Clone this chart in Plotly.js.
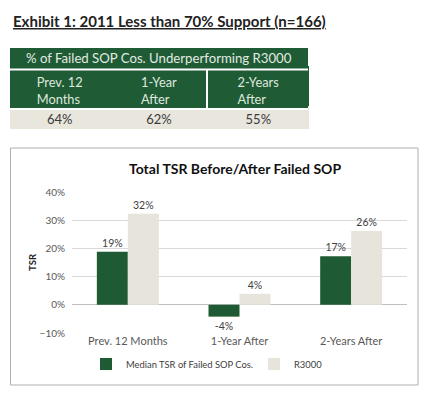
<!DOCTYPE html>
<html><head><meta charset="utf-8">
<script src="https://cdn.plot.ly/plotly-3.0.1.min.js"></script>
<style>html,body{margin:0;padding:0;background:#fff;overflow:hidden;width:431px;height:396px}#c{width:431px;height:396px;overflow:hidden}</style>
</head><body><div id="c"></div>
<script>
const categories = ["Prev. 12 Months", "1-Year After", "2-Years After"];
const failedTSR = [0.188, -0.042, 0.172];
const r3000TSR = [0.323, 0.039, 0.262];
const seriesNames = ["Median TSR of Failed SOP Cos.", "R3000"];
const tableColumns = ["Prev. 12<br>Months", "1-Year<br>After", "2-Years<br>After"];
const underperformShare = ["64%", "62%", "55%"];

const W = 431, H = 396;
const px = x => x / W;
const py = y => 1 - y / H;
const GREEN = "#1f5b34", BEIGE = "#e8e6dd", FONT = "Lato, 'Noto Sans', sans-serif";

const traces = [
  {type: "bar", x: categories, y: failedTSR, name: seriesNames[0], legend: "legend",
   marker: {color: "#1e5a33"}, text: failedTSR.map(v => Math.round(v*100) + "%"),
   textposition: "outside", cliponaxis: false, textfont: {size: 10.5, color: "#404040", family: FONT}},
  {type: "bar", x: categories, y: r3000TSR, name: seriesNames[1], legend: "legend2",
   marker: {color: "#e6e4db"}, text: r3000TSR.map(v => Math.round(v*100) + "%"),
   textposition: "outside", cliponaxis: false, textfont: {size: 10.5, color: "#404040", family: FONT}},
  {type: "table", domain: {x: [px(10), px(308)], y: [py(125), py(66)]},
   columnwidth: [1, 1, 1],
   header: {values: tableColumns, fill: {color: GREEN}, line: {color: GREEN, width: 1},
     align: "center", height: 42, font: {family: FONT, size: 12.8, color: "#dfe8df"}},
   showlegend: false},
  {type: "table", domain: {x: [px(10), px(308)], y: [py(140), py(106)]},
   columnwidth: [1, 1, 1],
   header: {values: underperformShare, fill: {color: BEIGE}, line: {color: BEIGE, width: 1},
     align: "center", height: 22, font: {family: FONT, size: 13, color: "#3a3a3a"}},
   showlegend: false}
];

const legendBase = {orientation: "h", xanchor: "left", y: py(364), yanchor: "middle",
  bgcolor: "rgba(0,0,0,0)", font: {size: 9.4, color: "#404040", family: FONT}, itemwidth: 30};

const layout = {
  width: W, height: H, margin: {l: 0, r: 0, t: 0, b: 0},
  paper_bgcolor: "#fff", plot_bgcolor: "#fff",
  font: {family: FONT, color: "#595959"},
  barmode: "group", bargap: 0.445, bargroupgap: 0,
  showlegend: true,
  legend: Object.assign({}, legendBase, {x: px(86)}),
  legend2: Object.assign({}, legendBase, {x: px(254)}),
  xaxis: {domain: [px(72), px(407)], tickfont: {size: 11, color: "#595959"}, showline: false,
    ticks: "", anchor: "y", fixedrange: true},
  yaxis: {domain: [py(333), py(192)], range: [-0.1, 0.4], dtick: 0.1, tickformat: ".0%",
    tickfont: {size: 10, color: "#595959"}, gridcolor: "#d9d9d9", gridwidth: 1,
    zeroline: true, zerolinecolor: "#bfbfbf", zerolinewidth: 1, showline: false, ticks: "",
    ticklabelstandoff: 6, fixedrange: true},
  shapes: [
    {type: "rect", xref: "paper", yref: "paper", x0: px(10), x1: px(308), y0: py(69), y1: py(48),
     fillcolor: GREEN, line: {width: 0}, layer: "above"},
    {type: "rect", xref: "paper", yref: "paper", x0: px(10), x1: px(308), y0: py(108.5), y1: py(104),
     fillcolor: GREEN, line: {width: 0}, layer: "above"},
    {type: "line", xref: "paper", yref: "paper", x0: px(10), x1: px(308), y0: py(69.5), y1: py(69.5),
     line: {color: "#ffffff", width: 2}, layer: "above"},
    {type: "line", xref: "paper", yref: "paper", x0: px(207), x1: px(207), y0: py(70), y1: py(108),
     line: {color: "#ffffff", width: 2}, layer: "above"},
    {type: "line", xref: "paper", yref: "paper", x0: px(10), x1: px(308), y0: py(109), y1: py(109),
     line: {color: "#ffffff", width: 2}, layer: "above"},
    {type: "rect", xref: "paper", yref: "paper", x0: px(10.5), x1: px(418), y0: py(385), y1: py(148),
     fillcolor: "rgba(0,0,0,0)", line: {color: "#b0b0b0", width: 1}}
  ],
  annotations: [
    {xref: "paper", yref: "paper", x: px(11), y: py(21), xanchor: "left", yanchor: "middle",
     text: "<b><u>Exhibit 1: 2011 Less than 70% Support (n=166)</u></b>", showarrow: false,
     font: {size: 15, color: "#222", family: FONT}},
    {xref: "paper", yref: "paper", x: px(159), y: py(58), xanchor: "center", yanchor: "middle",
     text: "% of Failed SOP Cos. Underperforming R3000", showarrow: false,
     font: {size: 13.2, color: "#e3ebe3", family: FONT}},
    {xref: "paper", yref: "paper", x: px(235), y: py(168), xanchor: "center", yanchor: "middle",
     text: "<b>Total TSR Before/After Failed SOP</b>", showarrow: false,
     font: {size: 14, color: "#111", family: FONT}},
    {xref: "paper", yref: "paper", x: px(32), y: py(262), xanchor: "center", yanchor: "middle",
     text: "<b>TSR</b>", textangle: -90, showarrow: false,
     font: {size: 9.5, color: "#222", family: FONT}}
  ]
};

Plotly.newPlot("c", traces, layout, {displayModeBar: false, staticPlot: true});
</script></body></html>
